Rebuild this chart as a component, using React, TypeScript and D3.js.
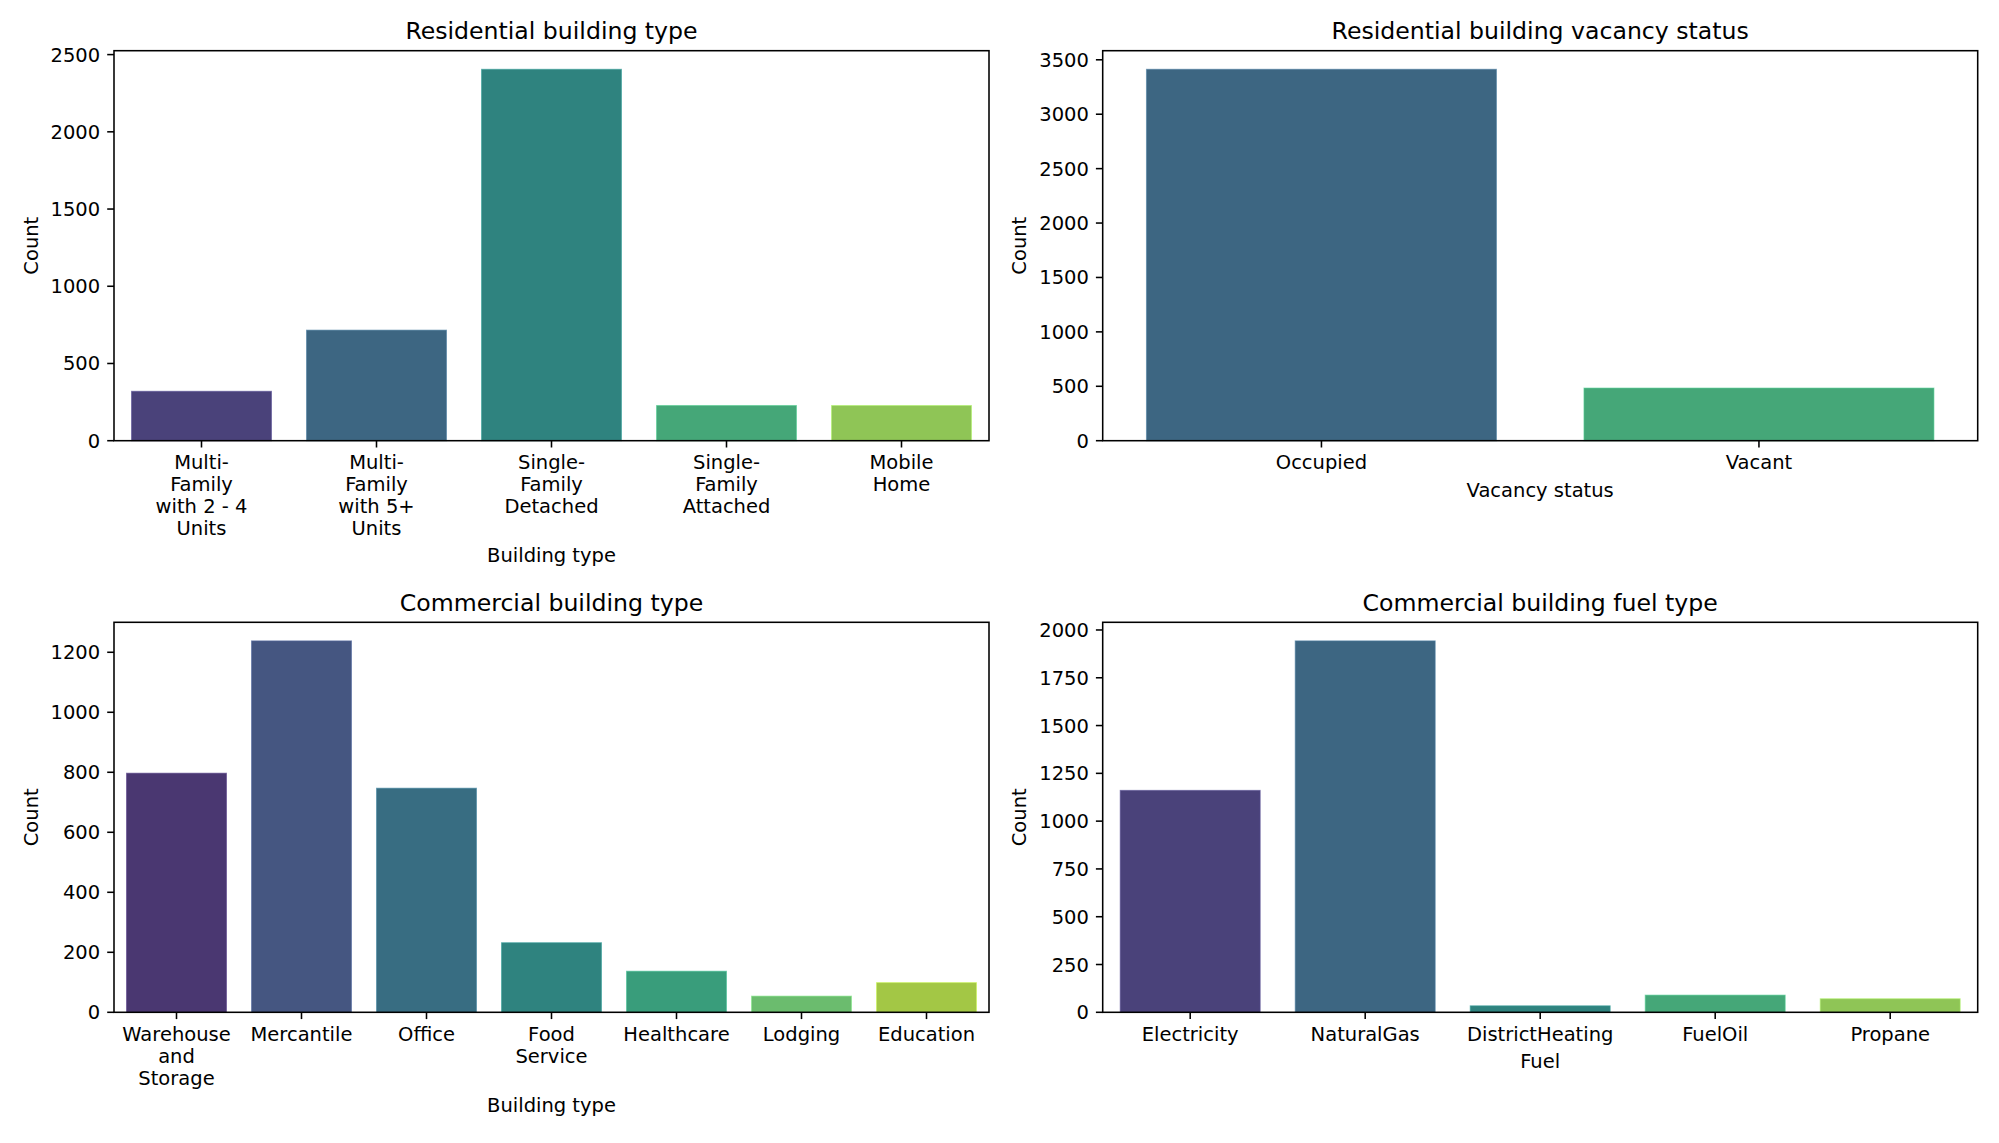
import React from "react";
import * as d3 from "d3";

// ---------- data ----------
const resTypeCategories = ["Multi-\nFamily\nwith 2 - 4\nUnits", "Multi-\nFamily\nwith 5+\nUnits", "Single-\nFamily\nDetached", "Single-\nFamily\nAttached", "Mobile\nHome"];
const resTypeCounts = [320, 716, 2405, 228, 228];
const resTypeTicks = [0, 500, 1000, 1500, 2000, 2500];

const vacancyCategories = ["Occupied", "Vacant"];
const vacancyCounts = [3413, 484];
const vacancyTicks = [0, 500, 1000, 1500, 2000, 2500, 3000, 3500];

const comTypeCategories = ["Warehouse\nand\nStorage", "Mercantile", "Office", "Food\nService", "Healthcare", "Lodging", "Education"];
const comTypeCounts = [797, 1238, 747, 232, 137, 54, 99];
const comTypeTicks = [0, 200, 400, 600, 800, 1000, 1200];

const fuelCategories = ["Electricity", "NaturalGas", "DistrictHeating", "FuelOil", "Propane"];
const fuelCounts = [1161, 1943, 34, 90, 71];
const fuelTicks = [0, 250, 500, 750, 1000, 1250, 1500, 1750, 2000];

// ---------- layout ----------
const W = 1999;
const H = 1143;
const FONT = "DejaVu Sans, Verdana, sans-serif";
const TICK_FS = 19.5;
const TITLE_FS = 23.6;
const LINE_PITCH = 21.8;
const TICK_LEN = 6.8;
const SPINE_W = 1.56;

type PanelProps = {
  x0: number; x1: number; y0: number; y1: number;
  title: string; xLabel: string;
  categories: string[]; values: number[]; ticks: number[];
};

function palette(n: number): string[] {
  return d3.range(n).map((i) => {
    const c = d3.hsl(d3.interpolateViridis((i + 1) / (n + 1)));
    c.s = c.s * 0.75;
    return c.formatHex();
  });
}

function Panel({ x0, x1, y0, y1, title, xLabel, categories, values, ticks }: PanelProps) {
  const x = d3.scaleBand<string>().domain(categories).range([x0, x1]).paddingInner(0.2).paddingOuter(0.1);
  const yMax = (d3.max(values) as number) * 1.05;
  const y = d3.scaleLinear().domain([0, yMax]).range([y1, y0]);
  const colors = palette(categories.length);
  const maxLines = d3.max(categories, (c) => c.split("\n").length) as number;
  const firstBase = y1 + 28.6;
  const xLabelBase = firstBase + (maxLines - 1) * LINE_PITCH + 27.5;
  const cx = (x0 + x1) / 2;
  return (
    <g>
      {categories.map((c, i) => {
        const bx = x(c) as number;
        const by = y(values[i]);
        return (
          <rect key={c} x={bx} y={by} width={x.bandwidth()} height={y1 - by}
            fill={colors[i]} stroke={d3.color(colors[i])!.brighter(0.6).formatHex()} strokeWidth={1} strokeOpacity={0.6} />
        );
      })}
      <rect x={x0} y={y0} width={x1 - x0} height={y1 - y0} fill="none" stroke="#000" strokeWidth={SPINE_W} />
      {ticks.map((t) => (
        <g key={t}>
          <line x1={x0 - TICK_LEN} x2={x0} y1={y(t)} y2={y(t)} stroke="#000" strokeWidth={SPINE_W} />
          <text x={x0 - TICK_LEN - 7} y={y(t) + 7} textAnchor="end" fontSize={TICK_FS} fontFamily={FONT} fill="#000">{t}</text>
        </g>
      ))}
      {categories.map((c) => {
        const tx = (x(c) as number) + x.bandwidth() / 2;
        const lines = c.split("\n");
        return (
          <g key={c}>
            <line x1={tx} x2={tx} y1={y1} y2={y1 + TICK_LEN} stroke="#000" strokeWidth={SPINE_W} />
            <text textAnchor="middle" fontSize={TICK_FS} fontFamily={FONT} fill="#000">
              {lines.map((l, k) => (
                <tspan key={k} x={tx} y={firstBase + k * LINE_PITCH}>{l}</tspan>
              ))}
            </text>
          </g>
        );
      })}
      <text x={cx} y={xLabelBase} textAnchor="middle" fontSize={TICK_FS} fontFamily={FONT} fill="#000">{xLabel}</text>
      <text transform={`translate(${x0 - 83},${(y0 + y1) / 2}) rotate(-90)`} textAnchor="middle" dominantBaseline="central"
        fontSize={TICK_FS} fontFamily={FONT} fill="#000">Count</text>
      <text x={cx} y={y0 - 11.7} textAnchor="middle" fontSize={TITLE_FS} fontFamily={FONT} fill="#000">{title}</text>
    </g>
  );
}

export default function App() {
  const L0 = 114, L1 = 989, R0 = 1102.7, R1 = 1977.7;
  const T0 = 50.7, T1 = 440.7, B0 = 622.3, B1 = 1012.3;
  return (
    <svg width={W} height={H} viewBox={`0 0 ${W} ${H}`} style={{ position: "absolute", left: 0, top: 0, background: "#fff" }}>
      <rect x={0} y={0} width={W} height={H} fill="#fff" />
      <Panel x0={L0} x1={L1} y0={T0} y1={T1} title="Residential building type" xLabel="Building type"
        categories={resTypeCategories} values={resTypeCounts} ticks={resTypeTicks} />
      <Panel x0={R0} x1={R1} y0={T0} y1={T1} title="Residential building vacancy status" xLabel="Vacancy status"
        categories={vacancyCategories} values={vacancyCounts} ticks={vacancyTicks} />
      <Panel x0={L0} x1={L1} y0={B0} y1={B1} title="Commercial building type" xLabel="Building type"
        categories={comTypeCategories} values={comTypeCounts} ticks={comTypeTicks} />
      <Panel x0={R0} x1={R1} y0={B0} y1={B1} title="Commercial building fuel type" xLabel="Fuel"
        categories={fuelCategories} values={fuelCounts} ticks={fuelTicks} />
    </svg>
  );
}
